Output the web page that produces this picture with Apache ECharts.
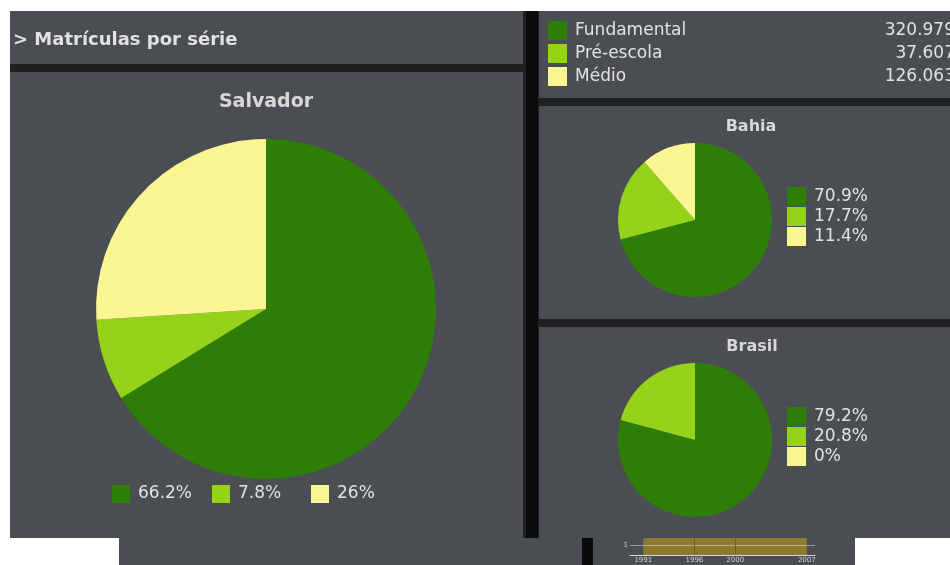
<!DOCTYPE html>
<html>
<head>
<meta charset="utf-8">
<script src="https://cdn.jsdelivr.net/npm/echarts@6/dist/echarts.min.js"></script>
<style>html,body{margin:0;padding:0;background:#fff;}#c{width:950px;height:565px;}</style>
</head>
<body>
<div id="c"></div>
<script>
// ---- data ----
const categories = ['Fundamental', 'Pré-escola', 'Médio'];
const salvadorCounts = [320979, 37607, 126063];
const bahiaPct = [70.9, 17.7, 11.4];
const brasilPct = [79.2, 20.8, 0];
const colors = ['#2e7d07', '#95d31a', '#fcf593'];
const timelineYears = [1991, 1996, 2000, 2007];
const timelineValues = [1.7, 1.7, 1.7, 1.7];
const timelineTickLabels = [1991, 1996, 2000, 2007];
const timelineMarks = [1996, 2000];

// ---- helpers ----
function fmtThousands(n) { return String(n).replace(/\B(?=(\d{3})+(?!\d))/g, '.'); }
function fmtPct(p) { const r = Math.round(p * 10) / 10; return (r % 1 === 0 ? r.toFixed(0) : r.toFixed(1)) + '%'; }
function pctMap(vals) {
  const s = vals.reduce((a, b) => a + b, 0);
  const m = {};
  categories.forEach((c, i) => { m[c] = fmtPct(s ? vals[i] / s * 100 : 0); });
  return m;
}
const salvadorP = pctMap(salvadorCounts);
const bahiaP = pctMap(bahiaPct);
const brasilP = pctMap(brasilPct);
const countMap = {};
categories.forEach((c, i) => { countMap[c] = fmtThousands(salvadorCounts[i]); });

function pieData(vals) {
  return categories.map((c, i) => ({ name: c, value: vals[i], itemStyle: { color: colors[i] } }));
}
function pie(name, vals, center, radius) {
  return {
    type: 'pie', name: name, center: center, radius: radius,
    startAngle: 90, clockwise: true, silent: true,
    label: { show: false }, labelLine: { show: false },
    itemStyle: { borderWidth: 0 },
    data: pieData(vals)
  };
}

const font = 'DejaVu Sans, Verdana, sans-serif';
const txt = '#e2e2e2';
const panel = '#4a4d51';
const dark = '#1f2021';

// Salvador bottom legend: one legend per category, fixed column positions
const salvadorLegendLeft = [112, 212, 311];
const salvadorLegends = categories.map((c, i) => ({
  left: salvadorLegendLeft[i], top: 485, padding: 0, orient: 'horizontal',
  itemWidth: 18, itemHeight: 18, icon: 'rect', selectedMode: false, data: [c],
  formatter: n => salvadorP[n],
  textStyle: { color: txt, fontFamily: font, fontSize: 17, padding: [0, 0, 0, 3] }
}));

const chart = echarts.init(document.getElementById('c'), null, { renderer: 'canvas' });
chart.setOption({
  animation: false,
  backgroundColor: '#ffffff',
  color: colors,
  graphic: [
    { type: 'rect', shape: { x: 10, y: 11, width: 940, height: 527 }, style: { fill: dark } },
    { type: 'rect', shape: { x: 10, y: 11, width: 513, height: 53 }, style: { fill: panel } },
    { type: 'rect', shape: { x: 10, y: 72, width: 513, height: 466 }, style: { fill: panel } },
    { type: 'rect', shape: { x: 526, y: 11, width: 12, height: 527 }, style: { fill: '#0c0c0c' } },
    { type: 'rect', shape: { x: 539, y: 11, width: 411, height: 87 }, style: { fill: panel } },
    { type: 'rect', shape: { x: 539, y: 106, width: 411, height: 213 }, style: { fill: panel } },
    { type: 'rect', shape: { x: 539, y: 327, width: 411, height: 211 }, style: { fill: panel } },
    { type: 'rect', shape: { x: 119, y: 538, width: 463, height: 27 }, style: { fill: panel } },
    { type: 'rect', shape: { x: 582, y: 538, width: 11, height: 27 }, style: { fill: '#0a0a0a' } },
    { type: 'rect', shape: { x: 593, y: 538, width: 262, height: 27 }, style: { fill: panel } },
    { type: 'text', x: 13, y: 40, style: { text: '> Matrículas por série', fill: txt, font: 'bold 18px ' + font, textVerticalAlign: 'middle' } },
    { type: 'text', x: 266, y: 102, style: { text: 'Salvador', fill: '#d8d8d8', font: 'bold 19px ' + font, textAlign: 'center', textVerticalAlign: 'middle' } },
    { type: 'text', x: 751, y: 127, style: { text: 'Bahia', fill: '#d8d8d8', font: 'bold 16px ' + font, textAlign: 'center', textVerticalAlign: 'middle' } },
    { type: 'text', x: 752, y: 347, style: { text: 'Brasil', fill: '#d8d8d8', font: 'bold 16px ' + font, textAlign: 'center', textVerticalAlign: 'middle' } }
  ],
  legend: [
    {
      left: 548, top: 21, padding: 0, orient: 'vertical', itemWidth: 19, itemHeight: 19, itemGap: 4,
      icon: 'rect', selectedMode: false, data: categories,
      formatter: n => '{n|' + n + '}{v|' + countMap[n] + '}',
      textStyle: { color: txt, fontFamily: font, fontSize: 17, padding: [0, 0, 0, 3],
        rich: { n: { width: 262, fontSize: 17, color: txt, fontFamily: font }, v: { width: 118, align: 'right', fontSize: 17, color: txt, fontFamily: font } } }
    },
    {
      left: 787, top: 187, padding: 0, orient: 'vertical', itemWidth: 19, itemHeight: 19, itemGap: 1,
      icon: 'rect', selectedMode: false, data: categories,
      formatter: n => bahiaP[n],
      textStyle: { color: txt, fontFamily: font, fontSize: 17, lineHeight: 19, padding: [0, 0, 0, 3] }
    },
    {
      left: 787, top: 407, padding: 0, orient: 'vertical', itemWidth: 19, itemHeight: 19, itemGap: 1,
      icon: 'rect', selectedMode: false, data: categories,
      formatter: n => brasilP[n],
      textStyle: { color: txt, fontFamily: font, fontSize: 17, lineHeight: 19, padding: [0, 0, 0, 3] }
    }
  ].concat(salvadorLegends),
  grid: [{ left: 630, right: 135, top: 538, bottom: 10, containLabel: false }],
  xAxis: [{
    type: 'value', gridIndex: 0, min: 1989.7, max: 2007.8,
    axisLine: { show: true, lineStyle: { color: '#d6d6d6', width: 1 } },
    axisTick: { show: false },
    splitLine: { show: false },
    axisLabel: { customValues: timelineTickLabels, formatter: v => String(v), fontSize: 7, color: '#cfcfcf', margin: 2, fontFamily: font }
  }],
  yAxis: [{
    type: 'value', gridIndex: 0, min: 0, max: 1.7,
    axisLine: { show: false }, axisTick: { show: false }, splitLine: { show: false },
    axisLabel: { customValues: [1], formatter: v => String(v), fontSize: 7, color: '#cfcfcf', margin: 2, fontFamily: font }
  }],
  series: [
    pie('Salvador', salvadorCounts, [266, 309], 170),
    pie('Bahia', bahiaPct, [695, 220], 77),
    pie('Brasil', brasilPct, [695, 440], 77),
    {
      type: 'line', xAxisIndex: 0, yAxisIndex: 0, silent: true,
      data: timelineYears.map((y, i) => [y, timelineValues[i]]),
      symbol: 'none', lineStyle: { width: 0 },
      areaStyle: { color: '#8c7a32', opacity: 1 },
      markLine: {
        silent: true, symbol: 'none', label: { show: false },
        data: [
          { yAxis: 1, lineStyle: { color: 'rgba(220,220,200,0.55)', width: 1, type: 'solid' } }
        ].concat(timelineMarks.map(x => ({ xAxis: x, lineStyle: { color: '#6e5f25', width: 1, type: 'solid' } })))
      }
    }
  ]
});
</script>
</body>
</html>
